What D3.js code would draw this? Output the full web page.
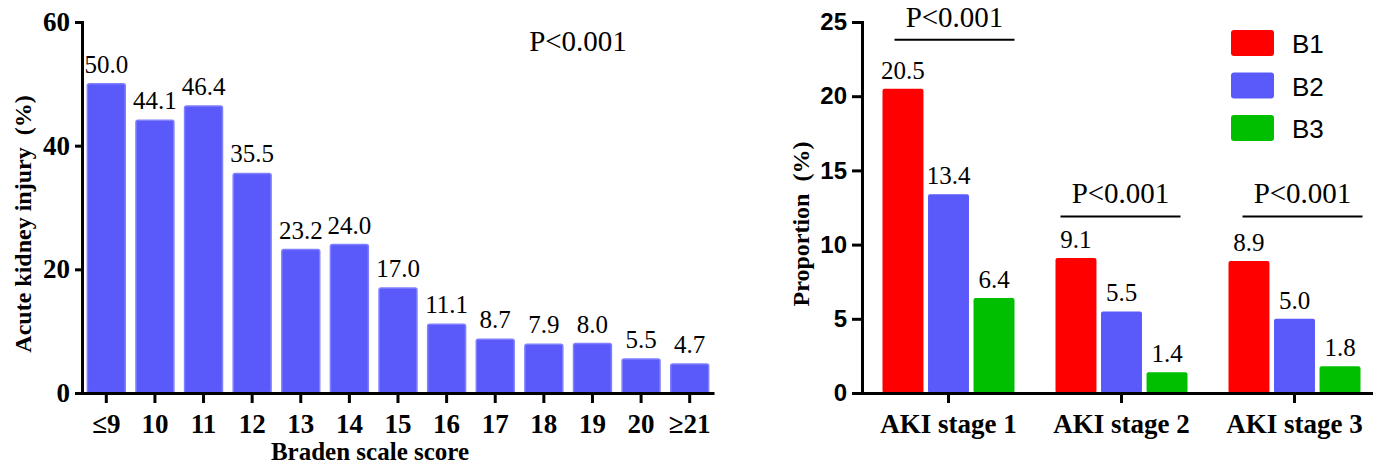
<!DOCTYPE html>
<html>
<head>
<meta charset="utf-8">
<script src="https://cdn.jsdelivr.net/npm/d3@7"></script>
<style>
  html, body { margin: 0; padding: 0; background: #fff; }
  svg { display: block; }
  .axis path, .axis line { stroke: #000; stroke-width: 3; }
</style>
</head>
<body>
<svg id="chart" width="1373" height="464"></svg>
<script>
// Left panel: AKI incidence by Braden scale score
const bradenScores = ["≤9", "10", "11", "12", "13", "14", "15", "16", "17", "18", "19", "20", "≥21"];
const akiRates = [50.0, 44.1, 46.4, 35.5, 23.2, 24.0, 17.0, 11.1, 8.7, 7.9, 8.0, 5.5, 4.7];
const leftTicks = [0, 20, 40, 60];

// Right panel: AKI stage proportions by Braden group
const akiStages = ["AKI stage 1", "AKI stage 2", "AKI stage 3"];
const bradenGroups = ["B1", "B2", "B3"];
const groupB1 = [20.5, 9.1, 8.9];
const groupB2 = [13.4, 5.5, 5.0];
const groupB3 = [6.4, 1.4, 1.8];
const rightTicks = [0, 5, 10, 15, 20, 25];
const pLabels = ["P<0.001", "P<0.001", "P<0.001"];
const pLineLevels = [23.8, 11.9, 11.9];

const svg = d3.select("#chart");
const serif = "'Liberation Serif', 'Times New Roman', serif";
const sans = "'Liberation Sans', Arial, sans-serif";
const blue = "#5a5afa";
const colors = d3.scaleOrdinal().domain(bradenGroups).range(["#ff0000", blue, "#00bf00"]);

// ---------- left panel ----------
const xL = d3.scaleBand().domain(bradenScores).range([82, 714]).paddingInner(0.22).paddingOuter(0.11);
const yL = d3.scaleLinear().domain([0, 60]).range([393, 22]);

const left = svg.append("g");
left.selectAll("rect.bar")
  .data(akiRates)
  .join("rect")
  .attr("class", "bar")
  .attr("x", (d, i) => xL(bradenScores[i]))
  .attr("y", d => yL(d))
  .attr("width", xL.bandwidth())
  .attr("height", d => yL(0) - yL(d))
  .attr("rx", 2)
  .attr("fill", blue)
  .attr("stroke", "#8080ff")
  .attr("stroke-width", 1.5);

left.selectAll("text.val")
  .data(akiRates)
  .join("text")
  .attr("class", "val")
  .attr("x", (d, i) => xL(bradenScores[i]) + xL.bandwidth() / 2)
  .attr("y", d => yL(d) - 11)
  .attr("text-anchor", "middle")
  .attr("font-family", serif)
  .attr("font-size", 25)
  .text(d => d.toFixed(1));

const lyAxis = left.append("g").attr("class", "axis")
  .attr("transform", "translate(82,0)")
  .call(d3.axisLeft(yL).tickValues(leftTicks).tickSize(7).tickPadding(5).tickFormat(d3.format("d")));
lyAxis.selectAll("text").attr("font-family", serif).attr("font-weight", "bold").attr("font-size", 27).attr("fill", "#000");

const lxAxis = left.append("g").attr("class", "axis")
  .attr("transform", "translate(0,393)")
  .call(d3.axisBottom(xL).tickSize(10).tickSizeOuter(0).tickPadding(11));
lxAxis.selectAll("text").attr("font-family", serif).attr("font-weight", "bold").attr("font-size", 27).attr("fill", "#000");

left.append("text")
  .attr("transform", "translate(31,224) rotate(-90)")
  .attr("text-anchor", "middle")
  .attr("font-family", serif).attr("font-weight", "bold").attr("font-size", 24)
  .attr("xml:space", "preserve")
  .text("Acute kidney injury  (%)");

left.append("text")
  .attr("x", 370).attr("y", 460)
  .attr("text-anchor", "middle")
  .attr("font-family", serif).attr("font-weight", "bold").attr("font-size", 25)
  .text("Braden scale score");

left.append("text")
  .attr("x", 578).attr("y", 51)
  .attr("text-anchor", "middle")
  .attr("font-family", serif).attr("font-size", 29)
  .text("P<0.001");

// ---------- right panel ----------
const xR = d3.scaleBand().domain(akiStages).range([862, 1381]);
const xInner = d3.scaleBand().domain(bradenGroups).range([20.5, 152.5]).paddingInner(0.1);
const yR = d3.scaleLinear().domain([0, 25]).range([393, 22]);

const seriesValues = { B1: groupB1, B2: groupB2, B3: groupB3 };
const barData = [];
akiStages.forEach((stage, i) => {
  bradenGroups.forEach(g => barData.push({ stage, group: g, value: seriesValues[g][i] }));
});

const right = svg.append("g");
right.selectAll("rect.bar")
  .data(barData)
  .join("rect")
  .attr("class", "bar")
  .attr("x", d => xR(d.stage) + xInner(d.group))
  .attr("y", d => yR(d.value))
  .attr("width", xInner.bandwidth())
  .attr("height", d => yR(0) - yR(d.value))
  .attr("rx", 2)
  .attr("fill", d => colors(d.group));

right.selectAll("text.val")
  .data(barData)
  .join("text")
  .attr("class", "val")
  .attr("x", d => xR(d.stage) + xInner(d.group) + xInner.bandwidth() / 2)
  .attr("y", d => yR(d.value) - 10)
  .attr("text-anchor", "middle")
  .attr("font-family", serif)
  .attr("font-size", 25)
  .text(d => d.value.toFixed(1));

const ryAxis = right.append("g").attr("class", "axis")
  .attr("transform", "translate(862,0)")
  .call(d3.axisLeft(yR).tickValues(rightTicks).tickSize(10).tickPadding(5).tickFormat(d3.format("d")));
ryAxis.selectAll("text").attr("font-family", sans).attr("font-weight", "bold").attr("font-size", 24).attr("fill", "#000");

const rxAxis = right.append("g").attr("class", "axis")
  .attr("transform", "translate(0,393)")
  .call(d3.axisBottom(xR).tickSize(10).tickSizeOuter(0).tickPadding(11));
rxAxis.selectAll("text").attr("font-family", serif).attr("font-weight", "bold").attr("font-size", 27).attr("fill", "#000");

right.append("text")
  .attr("transform", "translate(809,224) rotate(-90)")
  .attr("text-anchor", "middle")
  .attr("font-family", serif).attr("font-weight", "bold").attr("font-size", 24)
  .attr("xml:space", "preserve")
  .text("Proportion  (%)");

// significance brackets above each stage
const pOffsets = [6, -1, 8];
akiStages.forEach((stage, i) => {
  const cx = xR(stage) + xR.bandwidth() / 2 + pOffsets[i];
  const ly = yR(pLineLevels[i]);
  right.append("line")
    .attr("x1", cx - 60).attr("x2", cx + 60)
    .attr("y1", ly).attr("y2", ly)
    .attr("stroke", "#000").attr("stroke-width", 2);
  right.append("text")
    .attr("x", cx).attr("y", ly - 13)
    .attr("text-anchor", "middle")
    .attr("font-family", serif).attr("font-size", 29)
    .text(pLabels[i]);
});

// legend
const legend = right.append("g").attr("transform", "translate(1231,30)");
bradenGroups.forEach((g, i) => {
  legend.append("rect")
    .attr("x", 0).attr("y", i * 42.5)
    .attr("width", 43).attr("height", 26)
    .attr("rx", 3)
    .attr("fill", colors(g));
  legend.append("text")
    .attr("x", 61).attr("y", i * 42.5 + 23)
    .attr("font-family", sans).attr("font-size", 26)
    .text(g);
});
</script>
</body>
</html>
